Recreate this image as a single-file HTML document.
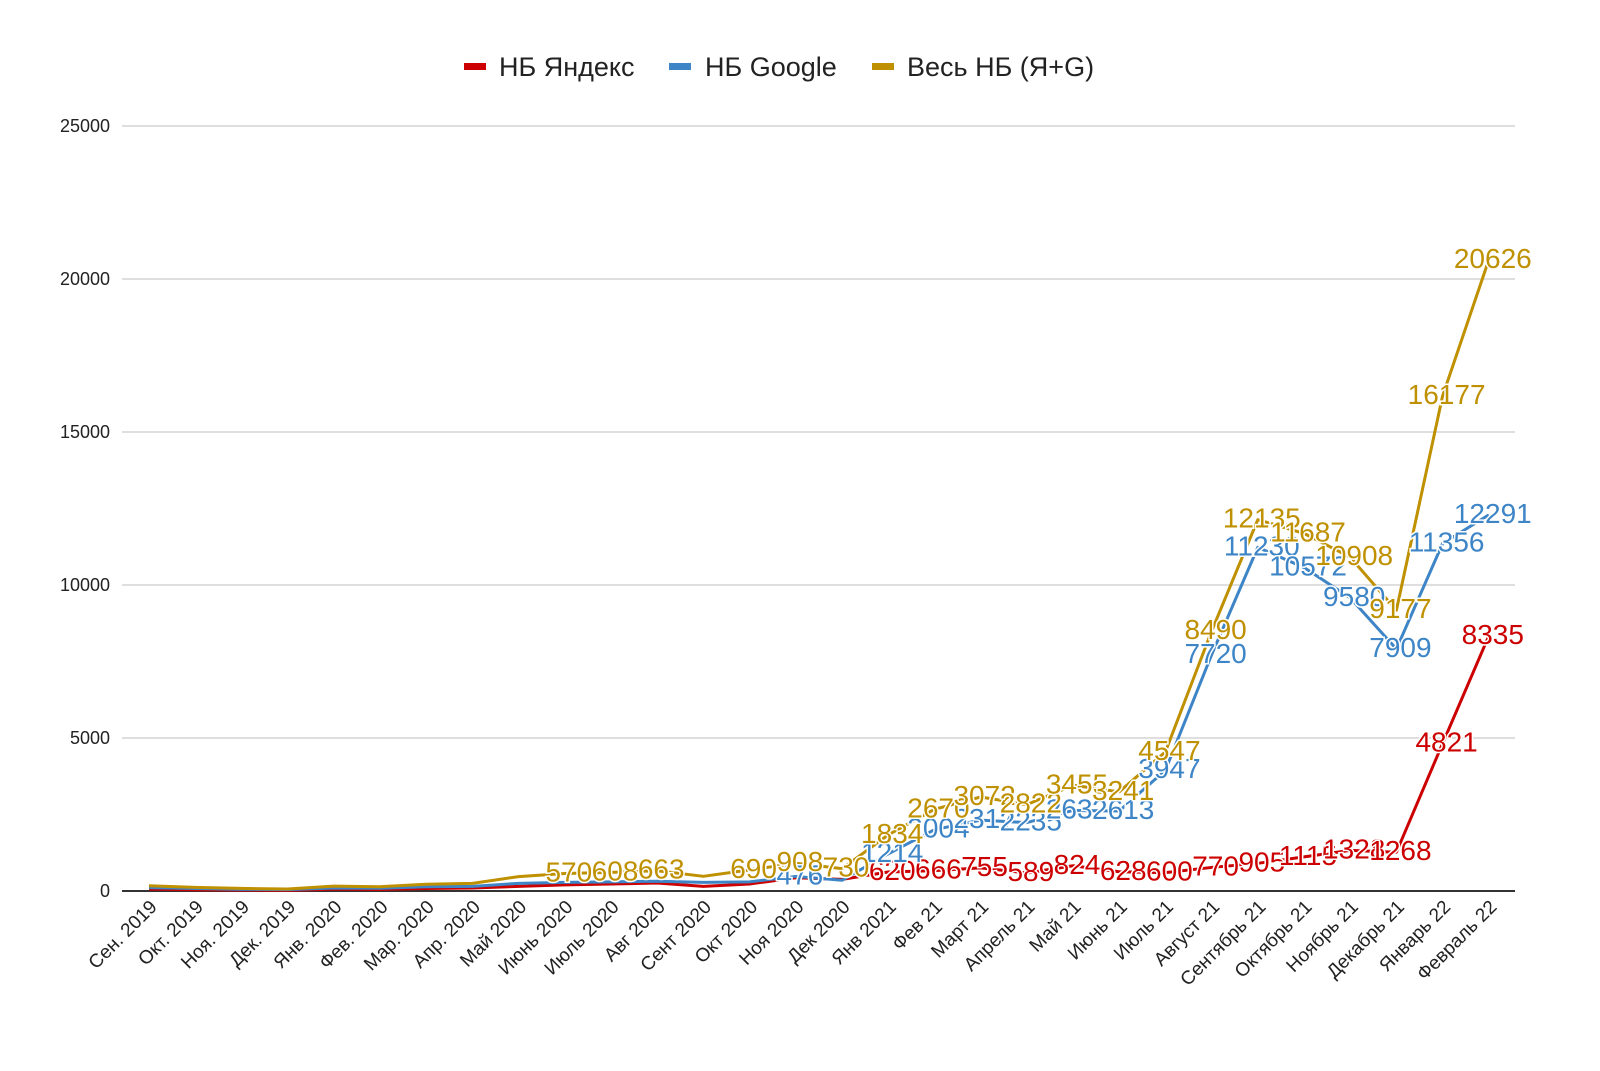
<!DOCTYPE html>
<html><head><meta charset="utf-8"><style>
body{margin:0;background:#fff;overflow:hidden;}
svg text{font-family:"Liberation Sans",Arial,sans-serif;}
</style></head><body>
<svg id="chart" width="1600" height="1071" xmlns="http://www.w3.org/2000/svg" style="display:block">
<rect width="1600" height="1071" fill="#fff"/>
<g id="legend">
 <g><rect x="464" y="63" width="22" height="7" fill="#cc0000"/><text x="499" y="76" font-size="27" fill="#222">НБ Яндекс</text></g>
 <g><rect x="669" y="63" width="22" height="7" fill="#3d85c6"/><text x="705" y="76" font-size="27" fill="#222">НБ Google</text></g>
 <g><rect x="872" y="63" width="22" height="7" fill="#bf9000"/><text x="907" y="76" font-size="27" fill="#222">Весь НБ (Я+G)</text></g>
</g>
<g id="grid"></g><g id="xlabels"></g><g id="lines"></g><g id="annots"></g>
</svg>
<script>
const categories=["Сен. 2019","Окт. 2019","Ноя. 2019","Дек. 2019","Янв. 2020","Фев. 2020","Мар. 2020","Апр. 2020","Май 2020","Июнь 2020","Июль 2020","Авг 2020","Сент 2020","Окт 2020","Ноя 2020","Дек 2020","Янв 2021","Фев 21","Март 21","Апрель 21","Май 21","Июнь 21","Июль 21","Август 21","Сентябрь 21","Октябрь 21","Ноябрь 21","Декабрь 21","Январь 22","Февраль 22"];
const yandex=[60,40,30,20,60,50,80,100,150,200,230,260,150,230,432,380,620,666,755,589,824,628,600,770,905,1115,1328,1268,4821,8335];
const google=[110,80,55,45,100,90,140,150,250,280,300,320,280,300,476,350,1214,2004,2317,2235,2632,2613,3947,7720,11230,10572,9580,7909,11356,12291];
const total=[170,120,85,65,160,140,220,250,470,570,608,663,480,690,908,730,1834,2670,3072,2822,3455,3241,4547,8490,12135,11687,10908,9177,16177,20626];
const yTicks=[0,5000,10000,15000,20000,25000];
const labelFrom={yandex:16,google:14,total:9};
const hiddenLabels={yandex:[],google:[15],total:[12]};
const NS="http://www.w3.org/2000/svg";
const X0=149,DX=46.2,Y0=891,PX=765/25000;
const xs=i=>X0+i*DX, ys=v=>Y0-v*PX;
function mk(t,a,p){const e=document.createElementNS(NS,t);for(const k in a)e.setAttribute(k,a[k]);p.appendChild(e);return e;}
const grid=document.getElementById('grid');
yTicks.forEach(v=>{
 const l=mk('line',{x1:122,x2:1515,y1:ys(v),y2:ys(v),stroke:v===0?'#333':'#ccc','stroke-width':v===0?2:1.3},grid);
 
 
 const t=mk('text',{x:110,y:ys(v)+6,'text-anchor':'end','font-size':18,fill:'#222'},grid);
 t.textContent=v;
 
 
});
const xl=document.getElementById('xlabels');
categories.forEach((c,i)=>{
 const x=xs(i)+9,y=908;
 const t=mk('text',{x:x,y:y,'text-anchor':'end','font-size':19,fill:'#222',transform:`rotate(-45 ${x} ${y})`},xl);
 t.textContent=c;
 
 
});
const series=[['yandex',yandex,'#cc0000'],['google',google,'#3d85c6'],['total',total,'#bf9000']];
const lines=document.getElementById('lines'),ann=document.getElementById('annots');
series.forEach(([n,d,c])=>{
 const p=mk('path',{d:d.map((v,i)=>(i?'L':'M')+xs(i)+' '+ys(v)).join(''),fill:'none',stroke:c,'stroke-width':3,'stroke-linejoin':'round'},lines);
 
 
});
series.forEach(([n,d,c])=>{
 d.forEach((v,i)=>{
  if(i<labelFrom[n]||hiddenLabels[n].includes(i))return;
  const t=mk('text',{x:xs(i)+4,y:ys(v)+8,'text-anchor':'middle','font-size':28,fill:c,stroke:'#fff','stroke-width':3,'paint-order':'stroke'},ann);
  t.textContent=v;
  
  
 });
});
</script>
</body></html>
